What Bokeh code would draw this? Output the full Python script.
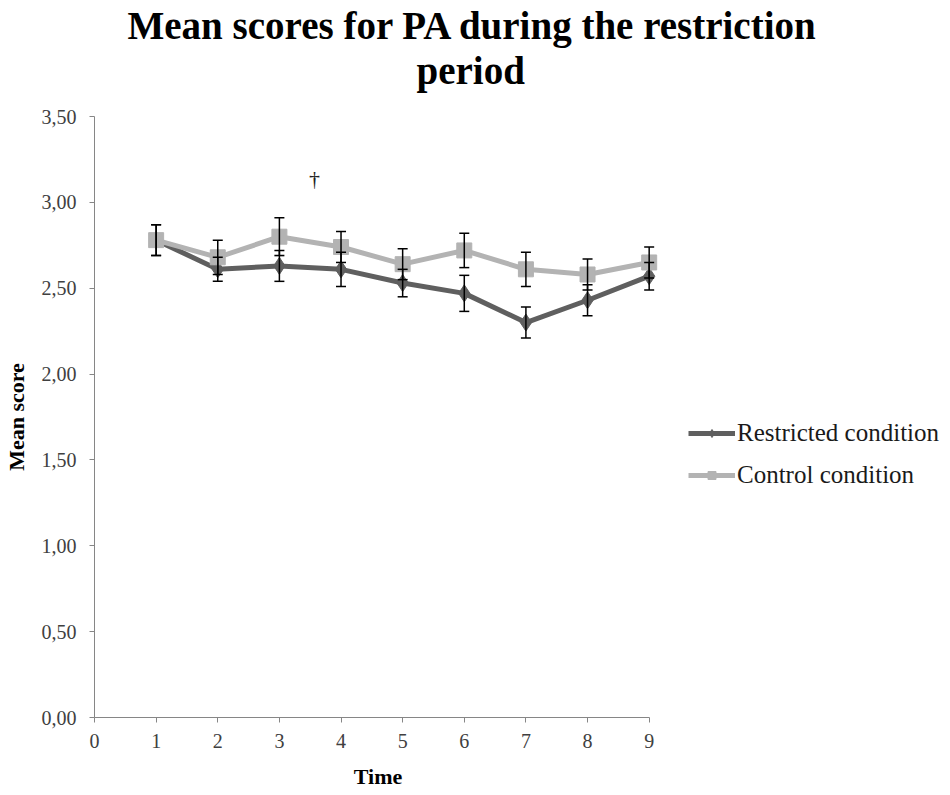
from bokeh.plotting import figure
from bokeh.models import (Range1d, ColumnDataSource, Whisker, TeeHead, Title, Legend, LegendItem,
                          CustomJSTickFormatter, FixedTicker)
from bokeh.core.properties import value
from bokeh.embed import file_html
from bokeh.resources import INLINE

# ---- data ----
time = [1, 2, 3, 4, 5, 6, 7, 8, 9]
restricted = [2.78, 2.61, 2.63, 2.61, 2.53, 2.47, 2.30, 2.43, 2.57]
restricted_err = [0.09, 0.07, 0.09, 0.10, 0.08, 0.105, 0.09, 0.09, 0.08]
control = [2.78, 2.68, 2.80, 2.74, 2.64, 2.72, 2.61, 2.58, 2.65]
control_err = [0.09, 0.10, 0.11, 0.09, 0.09, 0.10, 0.10, 0.09, 0.09]
x_ticks = [0, 1, 2, 3, 4, 5, 6, 7, 8, 9]
y_ticks = [0, 0.5, 1.0, 1.5, 2.0, 2.5, 3.0, 3.5]
dagger_x, dagger_y = 3.57, 3.14
title_line1 = "Mean scores for PA during the restriction"
title_line2 = "period"

SERIF = "Liberation Serif"
DARK = "#5f5f5f"
LIGHT = "#b3b3b3"

p = figure(frame_width=567, frame_height=601,
           min_border_left=94, min_border_right=273, min_border_top=116, min_border_bottom=62,
           x_range=Range1d(0, 9.2), y_range=Range1d(0, 3.5),
           output_backend="svg", toolbar_location=None, title=None)
p.outline_line_color = None
p.xgrid.visible = False
p.ygrid.visible = False
p.background_fill_color = "white"
p.border_fill_color = "white"

# axes
for ax in (p.xaxis[0], p.yaxis[0]):
    ax.axis_line_color = "#868686"
    ax.major_tick_line_color = "#868686"
    ax.minor_tick_line_color = None
    ax.major_tick_in = 0
    ax.major_tick_out = 5
    ax.major_label_text_font = SERIF
    ax.major_label_text_font_size = "20px"
    ax.major_label_text_color = "#404040"
    ax.axis_label_text_font = SERIF
    ax.axis_label_text_font_style = "bold"
    ax.axis_label_text_font_size = "22px"
    ax.axis_label_text_color = "#000000"

p.xaxis.ticker = FixedTicker(ticks=x_ticks)
p.xaxis.bounds = (0, 9)
p.xaxis.axis_label = "Time"
p.xaxis.major_label_standoff = 11
p.xaxis.axis_label_standoff = 13

p.yaxis.ticker = FixedTicker(ticks=y_ticks)
p.yaxis.formatter = CustomJSTickFormatter(code="return tick.toFixed(2).replace('.', ',');")
p.yaxis.axis_label = "Mean score"
p.yaxis.major_label_standoff = 13
p.yaxis.axis_label_standoff = 10

src_r = ColumnDataSource(dict(x=time, y=restricted,
                              lo=[v - e for v, e in zip(restricted, restricted_err)],
                              hi=[v + e for v, e in zip(restricted, restricted_err)]))
src_c = ColumnDataSource(dict(x=time, y=control,
                              lo=[v - e for v, e in zip(control, control_err)],
                              hi=[v + e for v, e in zip(control, control_err)]))

# restricted series
l_r = p.line("x", "y", source=src_r, line_color=DARK, line_width=5)
m_r = p.scatter("x", "y", source=src_r, marker="diamond", size=17,
                fill_color=DARK, line_color=DARK)
w_r = Whisker(base="x", lower="lo", upper="hi", source=src_r, level="glyph",
              line_color="black", line_width=1.5,
              upper_head=TeeHead(size=10, line_color="black", line_width=1.5),
              lower_head=TeeHead(size=10, line_color="black", line_width=1.5))
p.add_layout(w_r)

# control series
l_c = p.line("x", "y", source=src_c, line_color=LIGHT, line_width=5)
w_c = Whisker(base="x", lower="lo", upper="hi", source=src_c, level="glyph",
              line_color="black", line_width=1.5,
              upper_head=TeeHead(size=10, line_color="black", line_width=1.5),
              lower_head=TeeHead(size=10, line_color="black", line_width=1.5))
p.add_layout(w_c)
m_c = p.scatter("x", "y", source=src_c, marker="square", size=15,
                fill_color=LIGHT, line_color=LIGHT)

# dagger
p.text(x=[dagger_x], y=[dagger_y], text=["\u2020"], text_font=value(SERIF),
       text_font_size="22px", text_align="center", text_baseline="middle", text_color="#222222")

# title (two lines; the one added first sits nearest the plot; a blank spacer first)
p.add_layout(Title(text=" ", text_font_size="1px", standoff=22), "above")
p.add_layout(Title(text=title_line2, text_font=SERIF, text_font_style="bold",
                   text_font_size="39px", align="left", offset=322, text_color="black",
                   standoff=0), "above")
p.add_layout(Title(text=title_line1, text_font=SERIF, text_font_style="bold",
                   text_font_size="39px", align="left", offset=33, text_color="black",
                   standoff=0), "above")

legend = Legend(items=[LegendItem(label="Restricted condition", renderers=[l_r, m_r]),
                       LegendItem(label="Control condition", renderers=[l_c, m_c])],
                location=(27, 228), orientation="vertical",
                background_fill_alpha=0, border_line_color=None,
                label_text_font=SERIF, label_text_font_size="25px", label_text_color="#1a1a1a",
                glyph_width=47, glyph_height=20, label_standoff=2, spacing=14,
                padding=0, margin=0)
p.add_layout(legend, "right")

open("out.html", "w").write(file_html(p, INLINE))
